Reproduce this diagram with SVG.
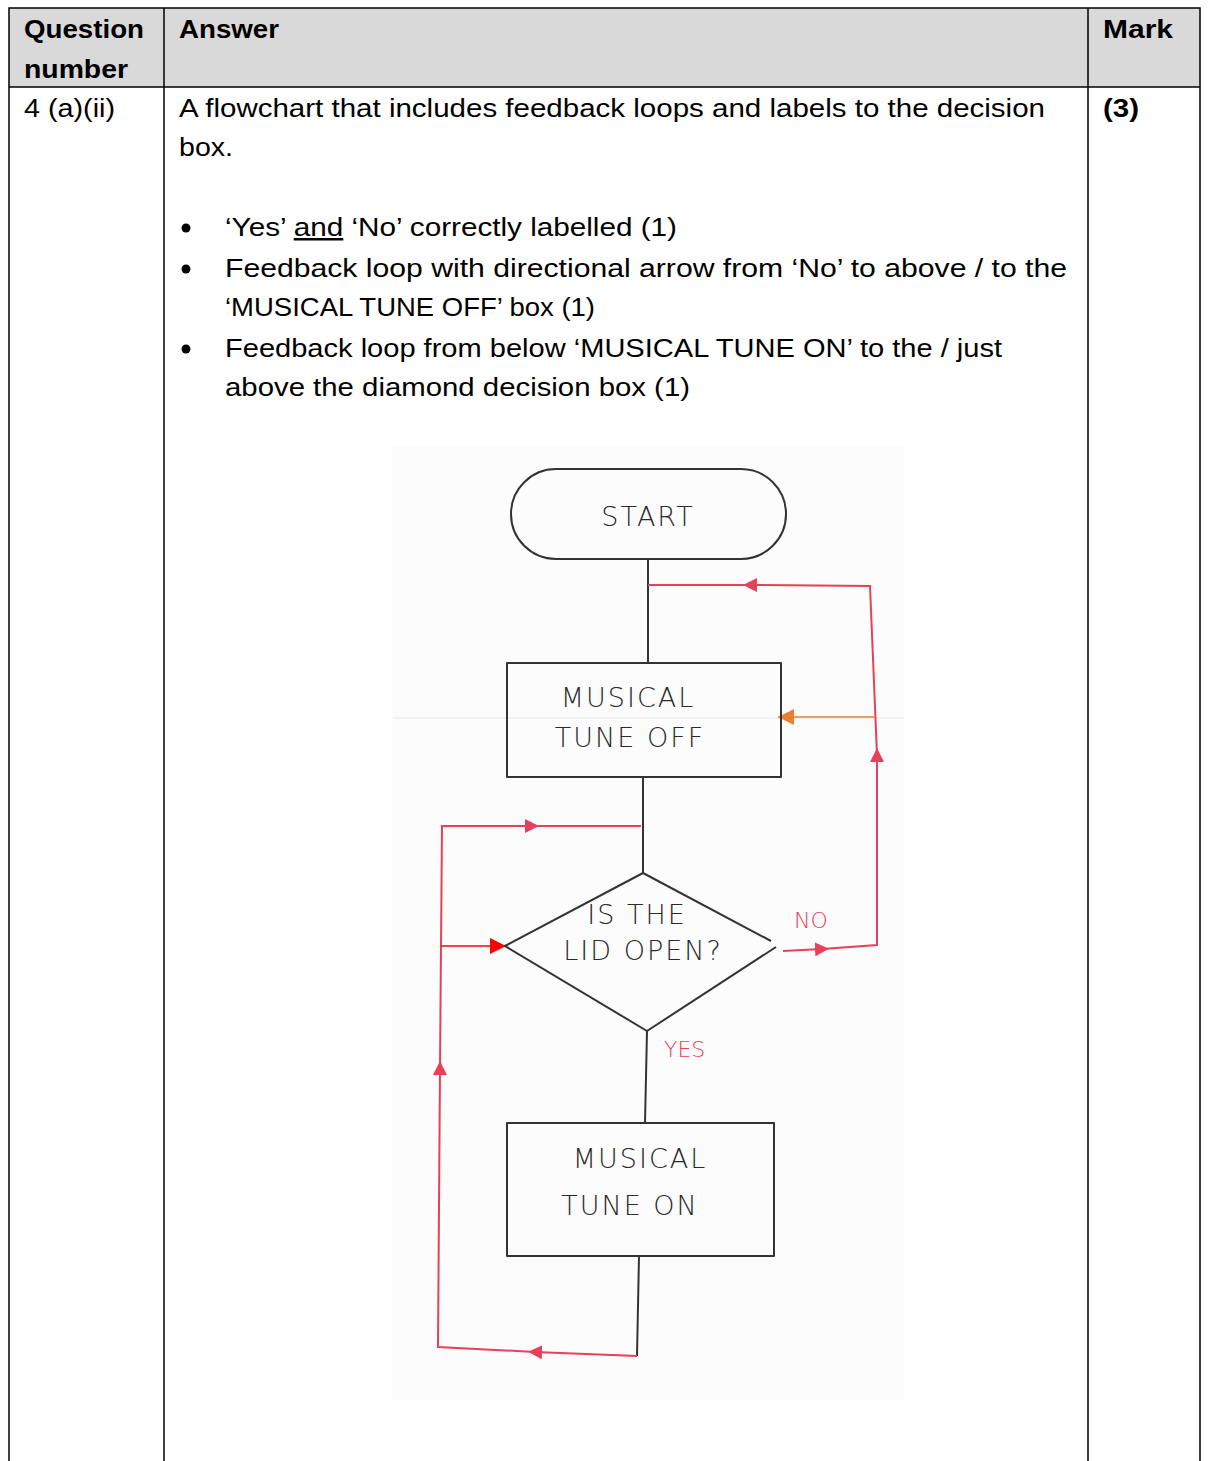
<svg xmlns="http://www.w3.org/2000/svg" width="1210" height="1461" viewBox="0 0 1210 1461">
<style>
.t{font-family:"Liberation Sans",Arial,sans-serif;font-size:25px;fill:#000}
.b{font-weight:bold}
.g{stroke:#000;stroke-width:1.5;fill:none}
.hw{font-family:"DejaVu Sans",sans-serif;font-size:27px;fill:#2a2a2a;font-weight:200;text-anchor:middle;letter-spacing:2px}
.sh{stroke:#333;stroke-width:2;fill:none;stroke-linejoin:round}
.red{stroke:#e8405a;stroke-width:2;fill:none}
.lab{font-family:"DejaVu Sans",sans-serif;font-size:22px;fill:#e8405a;font-weight:200}
</style>
<defs>
<marker id="ar" viewBox="0 0 10 10" refX="5" refY="5" markerWidth="14" markerHeight="14" markerUnits="userSpaceOnUse" orient="auto"><path d="M0,0 L10,5 L0,10 z" fill="#e8405a"/></marker>
<marker id="ao" viewBox="0 0 10 10" refX="10" refY="5" markerWidth="16" markerHeight="16" markerUnits="userSpaceOnUse" orient="auto"><path d="M0,0 L10,5 L0,10 z" fill="#ed7d31"/></marker>
<marker id="ak" viewBox="0 0 10 10" refX="10" refY="5" markerWidth="16" markerHeight="16" markerUnits="userSpaceOnUse" orient="auto"><path d="M0,0 L10,5 L0,10 z" fill="#ff0000"/></marker>
</defs>
<rect width="1210" height="1461" fill="#fff"/>
<g id="table">
<rect x="9" y="8" width="1191" height="79" fill="#d9d9d9"/>
<path class="g" d="M9,1461 V8 H1200 V1461 M164,8 V1461 M1088,8 V1461 M9,87 H1200"/>
<text class="t b" x="24" y="38" textLength="120" lengthAdjust="spacingAndGlyphs">Question</text>
<text class="t b" x="24" y="78" textLength="104" lengthAdjust="spacingAndGlyphs">number</text>
<text class="t b" x="179" y="38" textLength="100" lengthAdjust="spacingAndGlyphs">Answer</text>
<text class="t b" x="1103" y="38" textLength="70" lengthAdjust="spacingAndGlyphs">Mark</text>
<text class="t" x="24" y="117" textLength="91" lengthAdjust="spacingAndGlyphs">4 (a)(ii)</text>
<text class="t b" x="1103" y="117" textLength="36" lengthAdjust="spacingAndGlyphs">(3)</text>
<text class="t" x="179" y="117" textLength="866" lengthAdjust="spacingAndGlyphs">A flowchart that includes feedback loops and labels to the decision</text>
<text class="t" x="179" y="156" textLength="54" lengthAdjust="spacingAndGlyphs">box.</text>
<circle cx="186" cy="228" r="4.5"/>
<circle cx="186" cy="269" r="4.5"/>
<circle cx="186" cy="349" r="4.5"/>
<text class="t" x="225" y="236" textLength="452" lengthAdjust="spacingAndGlyphs">‘Yes’ <tspan text-decoration="underline">and</tspan> ‘No’ correctly labelled (1)</text>
<text class="t" x="225" y="277" textLength="842" lengthAdjust="spacingAndGlyphs">Feedback loop with directional arrow from ‘No’ to above / to the</text>
<text class="t" x="225" y="316" textLength="370" lengthAdjust="spacingAndGlyphs">‘MUSICAL TUNE OFF’ box (1)</text>
<text class="t" x="225" y="357" textLength="777" lengthAdjust="spacingAndGlyphs">Feedback loop from below ‘MUSICAL TUNE ON’ to the / just</text>
<text class="t" x="225" y="396" textLength="465" lengthAdjust="spacingAndGlyphs">above the diamond decision box (1)</text>
</g>
<rect x="392" y="446" width="512" height="955" fill="#fcfcfc"/>
<line x1="393" y1="718" x2="905" y2="718" stroke="#e8e8e8" stroke-width="1"/>
<g id="connectors">
<path class="sh" d="M648,559 V663 M643,777 V873 M647,1031 L645,1123 M639,1256 L637,1356"/>
<path class="red" d="M783,951 L822,949" marker-end="url(#ar)"/>
<path class="red" d="M822,949 L877,945 L877,755" marker-end="url(#ar)"/>
<path class="red" d="M877,755 L870,586 L750,585" marker-end="url(#ar)"/>
<path class="red" d="M750,585 L648,585"/>
<path d="M875,717 H778" stroke="#ed7d31" stroke-width="1.5" fill="none" marker-end="url(#ao)"/>
<path class="red" d="M637,1356 L535,1352" marker-end="url(#ar)"/>
<path class="red" d="M535,1352 L438,1347 L440,1068" marker-end="url(#ar)"/>
<path class="red" d="M440,1068 L442,826 L532,826" marker-end="url(#ar)"/>
<path class="red" d="M532,826 L641,826"/>
<path d="M441,946 H506" stroke="#ff0000" stroke-width="1.5" fill="none" marker-end="url(#ak)"/>
<text class="lab" x="794" y="928">NO</text>
<text class="lab" x="664" y="1057">YES</text>
</g>
<g id="start">
<rect x="511" y="469" width="275" height="90" rx="45" class="sh"/>
<text class="hw" x="648" y="526" font-size="34">START</text>
</g>
<g id="tuneoff">
<rect x="507" y="663" width="274" height="114" class="sh"/>
<text class="hw" x="628" y="707">MUSICAL</text>
<text class="hw" x="630" y="747">TUNE OFF</text>
</g>
<g id="decision">
<path class="sh" d="M771,941 L643,873 L505,946 L647,1031 L776,947"/>
<text class="hw" x="637" y="924" font-size="23">IS THE</text>
<text class="hw" x="643" y="960" font-size="23">LID OPEN?</text>
</g>
<g id="tuneon">
<rect x="507" y="1123" width="267" height="133" class="sh"/>
<text class="hw" x="640" y="1168" font-size="24">MUSICAL</text>
<text class="hw" x="630" y="1215" font-size="24">TUNE ON</text>
</g>
</svg>
